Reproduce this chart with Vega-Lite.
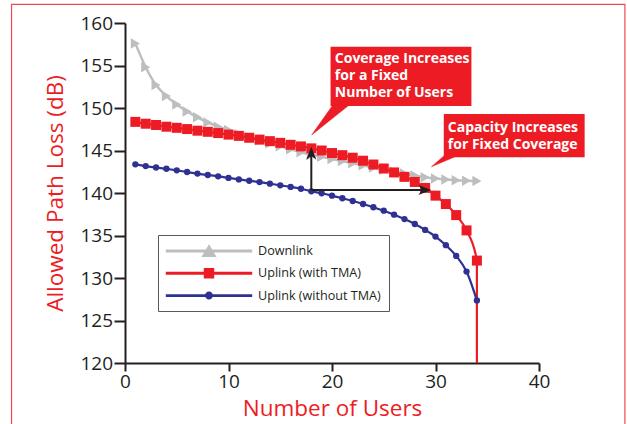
{
  "$schema": "https://vega.github.io/schema/vega-lite/v6.json",
  "width": 414,
  "height": 340,
  "autosize": {"type": "none"},
  "padding": {"left": 125, "top": 23, "right": 88, "bottom": 61},
  "background": "white",
  "config": {
    "view": {"stroke": null},
    "font": "Open Sans",
    "axis": {
      "grid": false,
      "tickWidth": 2,
      "tickColor": "#231f20",
      "domainColor": "#231f20",
      "domainWidth": 2,
      "labelFont": "Open Sans",
      "labelFontSize": 19,
      "labelColor": "#231f20",
      "labelFlush": false,
      "titleFont": "Open Sans",
      "titleFontSize": 22.5,
      "titleFontWeight": "normal",
      "titleColor": "#ed1c24"
    }
  },
  "datasets": {
    "curves": [
      {"s": "Downlink", "n": 1, "db": 157.6},
      {"s": "Downlink", "n": 2, "db": 154.8},
      {"s": "Downlink", "n": 3, "db": 152.7},
      {"s": "Downlink", "n": 4, "db": 151.4},
      {"s": "Downlink", "n": 5, "db": 150.4},
      {"s": "Downlink", "n": 6, "db": 149.6},
      {"s": "Downlink", "n": 7, "db": 148.9},
      {"s": "Downlink", "n": 8, "db": 148.3},
      {"s": "Downlink", "n": 9, "db": 147.8},
      {"s": "Downlink", "n": 10, "db": 147.4},
      {"s": "Downlink", "n": 11, "db": 146.95},
      {"s": "Downlink", "n": 12, "db": 146.55},
      {"s": "Downlink", "n": 13, "db": 146.2},
      {"s": "Downlink", "n": 14, "db": 145.85},
      {"s": "Downlink", "n": 15, "db": 145.5},
      {"s": "Downlink", "n": 16, "db": 145.15},
      {"s": "Downlink", "n": 17, "db": 144.8},
      {"s": "Downlink", "n": 18, "db": 144.5},
      {"s": "Downlink", "n": 19, "db": 144.25},
      {"s": "Downlink", "n": 20, "db": 144.0},
      {"s": "Downlink", "n": 21, "db": 143.75},
      {"s": "Downlink", "n": 22, "db": 143.5},
      {"s": "Downlink", "n": 23, "db": 143.25},
      {"s": "Downlink", "n": 24, "db": 143.0},
      {"s": "Downlink", "n": 25, "db": 142.75},
      {"s": "Downlink", "n": 26, "db": 142.5},
      {"s": "Downlink", "n": 27, "db": 142.3},
      {"s": "Downlink", "n": 28, "db": 142.05},
      {"s": "Downlink", "n": 29, "db": 141.85},
      {"s": "Downlink", "n": 30, "db": 141.7},
      {"s": "Downlink", "n": 31, "db": 141.6},
      {"s": "Downlink", "n": 32, "db": 141.5},
      {"s": "Downlink", "n": 33, "db": 141.45},
      {"s": "Downlink", "n": 34, "db": 141.4},
      {"s": "Uplink (with TMA)", "n": 1, "db": 148.37},
      {"s": "Uplink (with TMA)", "n": 2, "db": 148.15},
      {"s": "Uplink (with TMA)", "n": 3, "db": 148.0},
      {"s": "Uplink (with TMA)", "n": 4, "db": 147.8},
      {"s": "Uplink (with TMA)", "n": 5, "db": 147.67},
      {"s": "Uplink (with TMA)", "n": 6, "db": 147.52},
      {"s": "Uplink (with TMA)", "n": 7, "db": 147.33},
      {"s": "Uplink (with TMA)", "n": 8, "db": 147.2},
      {"s": "Uplink (with TMA)", "n": 9, "db": 147.05},
      {"s": "Uplink (with TMA)", "n": 10, "db": 146.87},
      {"s": "Uplink (with TMA)", "n": 11, "db": 146.72},
      {"s": "Uplink (with TMA)", "n": 12, "db": 146.5},
      {"s": "Uplink (with TMA)", "n": 13, "db": 146.28},
      {"s": "Uplink (with TMA)", "n": 14, "db": 146.1},
      {"s": "Uplink (with TMA)", "n": 15, "db": 145.9},
      {"s": "Uplink (with TMA)", "n": 16, "db": 145.67},
      {"s": "Uplink (with TMA)", "n": 17, "db": 145.48},
      {"s": "Uplink (with TMA)", "n": 18, "db": 145.25},
      {"s": "Uplink (with TMA)", "n": 19, "db": 145.0},
      {"s": "Uplink (with TMA)", "n": 20, "db": 144.7},
      {"s": "Uplink (with TMA)", "n": 21, "db": 144.45},
      {"s": "Uplink (with TMA)", "n": 22, "db": 144.15},
      {"s": "Uplink (with TMA)", "n": 23, "db": 143.8},
      {"s": "Uplink (with TMA)", "n": 24, "db": 143.35},
      {"s": "Uplink (with TMA)", "n": 25, "db": 142.88},
      {"s": "Uplink (with TMA)", "n": 26, "db": 142.42},
      {"s": "Uplink (with TMA)", "n": 27, "db": 141.9},
      {"s": "Uplink (with TMA)", "n": 28, "db": 141.3},
      {"s": "Uplink (with TMA)", "n": 29, "db": 140.6},
      {"s": "Uplink (with TMA)", "n": 30, "db": 139.69},
      {"s": "Uplink (with TMA)", "n": 31, "db": 138.7},
      {"s": "Uplink (with TMA)", "n": 32, "db": 137.4},
      {"s": "Uplink (with TMA)", "n": 33, "db": 135.6},
      {"s": "Uplink (with TMA)", "n": 34, "db": 132.05},
      {"s": "Uplink (with TMA)", "n": 34, "db": 120},
      {"s": "Uplink (without TMA)", "n": 1, "db": 143.37},
      {"s": "Uplink (without TMA)", "n": 2, "db": 143.17},
      {"s": "Uplink (without TMA)", "n": 3, "db": 143.0},
      {"s": "Uplink (without TMA)", "n": 4, "db": 142.85},
      {"s": "Uplink (without TMA)", "n": 5, "db": 142.67},
      {"s": "Uplink (without TMA)", "n": 6, "db": 142.47},
      {"s": "Uplink (without TMA)", "n": 7, "db": 142.28},
      {"s": "Uplink (without TMA)", "n": 8, "db": 142.12},
      {"s": "Uplink (without TMA)", "n": 9, "db": 141.96},
      {"s": "Uplink (without TMA)", "n": 10, "db": 141.77},
      {"s": "Uplink (without TMA)", "n": 11, "db": 141.6},
      {"s": "Uplink (without TMA)", "n": 12, "db": 141.44},
      {"s": "Uplink (without TMA)", "n": 13, "db": 141.28},
      {"s": "Uplink (without TMA)", "n": 14, "db": 141.1},
      {"s": "Uplink (without TMA)", "n": 15, "db": 140.9},
      {"s": "Uplink (without TMA)", "n": 16, "db": 140.72},
      {"s": "Uplink (without TMA)", "n": 17, "db": 140.5},
      {"s": "Uplink (without TMA)", "n": 18, "db": 140.2},
      {"s": "Uplink (without TMA)", "n": 19, "db": 139.97},
      {"s": "Uplink (without TMA)", "n": 20, "db": 139.69},
      {"s": "Uplink (without TMA)", "n": 21, "db": 139.38},
      {"s": "Uplink (without TMA)", "n": 22, "db": 139.06},
      {"s": "Uplink (without TMA)", "n": 23, "db": 138.71},
      {"s": "Uplink (without TMA)", "n": 24, "db": 138.32},
      {"s": "Uplink (without TMA)", "n": 25, "db": 137.92},
      {"s": "Uplink (without TMA)", "n": 26, "db": 137.45},
      {"s": "Uplink (without TMA)", "n": 27, "db": 136.93},
      {"s": "Uplink (without TMA)", "n": 28, "db": 136.35},
      {"s": "Uplink (without TMA)", "n": 29, "db": 135.66},
      {"s": "Uplink (without TMA)", "n": 30, "db": 134.87},
      {"s": "Uplink (without TMA)", "n": 31, "db": 133.86},
      {"s": "Uplink (without TMA)", "n": 32, "db": 132.6},
      {"s": "Uplink (without TMA)", "n": 33, "db": 130.76},
      {"s": "Uplink (without TMA)", "n": 34, "db": 127.36}
    ]
  },
  "layer": [
    {
      "data": {"values": [{"x1": -10.96, "x2": 48.3, "y1": 162.2, "y2": 110}]},
      "mark": {"type": "rect", "filled": false, "color": "#ef4a53", "strokeWidth": 1.2},
      "encoding": {
        "x": {"field": "x1", "type": "quantitative", "scale": {"domain": [0, 40]}, "title": "Number of Users"},
        "x2": {"field": "x2"},
        "y": {"field": "y1", "type": "quantitative", "scale": {"domain": [120, 160]}, "title": "Allowed Path Loss (dB)"},
        "y2": {"field": "y2"}
      }
    },
    {
      "data": {"name": "curves"},
      "transform": [{"filter": "datum.s === 'Downlink'"}],
      "mark": {"type": "line", "interpolate": "monotone", "strokeWidth": 2.5, "color": "#bcbec0"},
      "encoding": {
        "x": {
          "field": "n", "type": "quantitative",
          "scale": {"domain": [0, 40], "nice": false},
          "title": "Number of Users",
          "axis": {"values": [0, 10, 20, 30, 40], "tickSize": 8, "labelPadding": 1, "titlePadding": 6}
        },
        "y": {
          "field": "db", "type": "quantitative",
          "scale": {"domain": [120, 160], "nice": false, "zero": false},
          "title": "Allowed Path Loss (dB)",
          "axis": {"values": [120, 125, 130, 135, 140, 145, 150, 155, 160], "tickSize": 11, "labelPadding": 1.5, "titlePadding": 12}
        }
      }
    },
    {
      "data": {"name": "curves"},
      "transform": [{"filter": "datum.s === 'Downlink'"}],
      "mark": {"type": "point", "shape": "triangle-right", "filled": true, "opacity": 1, "size": 110, "color": "#bcbec0"},
      "encoding": {
        "x": {"field": "n", "type": "quantitative", "scale": {"domain": [0, 40]}, "title": "Number of Users"},
        "y": {"field": "db", "type": "quantitative", "scale": {"domain": [120, 160]}, "title": "Allowed Path Loss (dB)"}
      }
    },
    {
      "data": {"name": "curves"},
      "transform": [{"filter": "datum.s === 'Uplink (with TMA)'"}],
      "mark": {"type": "line", "interpolate": "monotone", "strokeWidth": 2.2, "color": "#ed1c24"},
      "encoding": {
        "x": {"field": "n", "type": "quantitative", "scale": {"domain": [0, 40]}, "title": "Number of Users"},
        "y": {"field": "db", "type": "quantitative", "scale": {"domain": [120, 160]}, "title": "Allowed Path Loss (dB)"}
      }
    },
    {
      "data": {"name": "curves"},
      "transform": [{"filter": "datum.s === 'Uplink (with TMA)' && datum.db > 120"}],
      "mark": {"type": "point", "shape": "square", "filled": true, "opacity": 1, "size": 100, "color": "#ed1c24"},
      "encoding": {
        "x": {"field": "n", "type": "quantitative", "scale": {"domain": [0, 40]}, "title": "Number of Users"},
        "y": {"field": "db", "type": "quantitative", "scale": {"domain": [120, 160]}, "title": "Allowed Path Loss (dB)"}
      }
    },
    {
      "data": {"name": "curves"},
      "transform": [{"filter": "datum.s === 'Uplink (without TMA)'"}],
      "mark": {"type": "line", "interpolate": "monotone", "strokeWidth": 2.2, "color": "#2e3192"},
      "encoding": {
        "x": {"field": "n", "type": "quantitative", "scale": {"domain": [0, 40]}, "title": "Number of Users"},
        "y": {"field": "db", "type": "quantitative", "scale": {"domain": [120, 160]}, "title": "Allowed Path Loss (dB)"}
      }
    },
    {
      "data": {"name": "curves"},
      "transform": [{"filter": "datum.s === 'Uplink (without TMA)'"}],
      "mark": {"type": "point", "shape": "circle", "filled": true, "opacity": 1, "size": 40, "color": "#2e3192"},
      "encoding": {
        "x": {"field": "n", "type": "quantitative", "scale": {"domain": [0, 40]}, "title": "Number of Users"},
        "y": {"field": "db", "type": "quantitative", "scale": {"domain": [120, 160]}, "title": "Allowed Path Loss (dB)"}
      }
    },
    {
      "data": {"name": "curves"},
      "transform": [{"filter": "false"}],
      "mark": {"type": "point", "filled": true, "opacity": 1},
      "encoding": {
        "x": {"field": "n", "type": "quantitative", "scale": {"domain": [0, 40]}, "title": "Number of Users"},
        "y": {"field": "db", "type": "quantitative", "scale": {"domain": [120, 160]}, "title": "Allowed Path Loss (dB)"},
        "color": {
          "field": "s", "type": "nominal",
          "scale": {"domain": ["Downlink", "Uplink (with TMA)", "Uplink (without TMA)"], "range": ["#bcbec0", "#ed1c24", "#2e3192"]},
          "legend": {
            "orient": "none",
            "legendX": 33,
            "legendY": 212,
            "title": null,
            "padding": 8,
            "strokeColor": "#58595b",
            "fillColor": "white",
            "rowPadding": 7.3,
            "symbolSize": 256,
            "symbolStrokeWidth": 0,
            "symbolOffset": 35,
            "labelOffset": 41,
            "labelFont": "Open Sans",
            "labelFontSize": 12.6,
            "labelColor": "#231f20",
            "labelLimit": 300
          }
        },
        "shape": {
          "field": "s", "type": "nominal",
          "scale": {
            "domain": ["Downlink", "Uplink (with TMA)", "Uplink (without TMA)"],
            "range": [
              "M-5.4,-0.18H5.4V0.18H-5.4ZM-0.95,0.75L0,-0.85L0.95,0.75Z",
              "M-5.4,-0.18H5.4V0.18H-5.4ZM-0.65,-0.65H0.65V0.65H-0.65Z",
              "M-5.4,-0.18H5.4V0.18H-5.4ZM-0.5,0A0.5,0.5,0,1,1,0.5,0A0.5,0.5,0,1,1,-0.5,0Z"
            ]
          },
          "legend": {
            "orient": "none",
            "legendX": 33,
            "legendY": 212,
            "title": null,
            "padding": 8,
            "strokeColor": "#58595b",
            "fillColor": "white",
            "rowPadding": 7.3,
            "symbolSize": 256,
            "symbolStrokeWidth": 0,
            "symbolOffset": 35,
            "labelOffset": 41,
            "labelFont": "Open Sans",
            "labelFontSize": 12.6,
            "labelColor": "#231f20",
            "labelLimit": 300
          }
        }
      }
    },
    {
      "data": {"values": [{"x": 18, "y": 140.35, "xe": 18, "ye": 145.0}, {"x": 18, "y": 140.35, "xe": 29.0, "ye": 140.35}]},
      "mark": {"type": "rule", "color": "#231f20", "strokeWidth": 2},
      "encoding": {
        "x": {"field": "x", "type": "quantitative", "scale": {"domain": [0, 40]}, "title": "Number of Users"},
        "x2": {"field": "xe"},
        "y": {"field": "y", "type": "quantitative", "scale": {"domain": [120, 160]}, "title": "Allowed Path Loss (dB)"},
        "y2": {"field": "ye"}
      }
    },
    {
      "data": {"values": [{"x": 18, "y": 145.45}]},
      "mark": {"type": "point", "shape": "M0,0L0.78,2L0,1.45L-0.78,2Z", "filled": true, "color": "#231f20", "opacity": 1, "size": 169},
      "encoding": {
        "x": {"field": "x", "type": "quantitative", "scale": {"domain": [0, 40]}, "title": "Number of Users"},
        "y": {"field": "y", "type": "quantitative", "scale": {"domain": [120, 160]}, "title": "Allowed Path Loss (dB)"}
      }
    },
    {
      "data": {"values": [{"x": 29.6, "y": 140.35}]},
      "mark": {"type": "point", "shape": "M0,0L-2,0.78L-1.45,0L-2,-0.78Z", "filled": true, "color": "#231f20", "opacity": 1, "size": 169},
      "encoding": {
        "x": {"field": "x", "type": "quantitative", "scale": {"domain": [0, 40]}, "title": "Number of Users"},
        "y": {"field": "y", "type": "quantitative", "scale": {"domain": [120, 160]}, "title": "Allowed Path Loss (dB)"}
      }
    },
    {
      "data": {"values": [{"x1": 19.86, "x2": 33.47, "y1": 157.21, "y2": 150.24}, {"x1": 30.8, "x2": 44.41, "y1": 149.29, "y2": 144.2}]},
      "mark": {"type": "rect", "color": "#ed1c24", "opacity": 1},
      "encoding": {
        "x": {"field": "x1", "type": "quantitative", "scale": {"domain": [0, 40]}, "title": "Number of Users"},
        "x2": {"field": "x2"},
        "y": {"field": "y1", "type": "quantitative", "scale": {"domain": [120, 160]}, "title": "Allowed Path Loss (dB)"},
        "y2": {"field": "y2"}
      }
    },
    {
      "data": {"values": [
        {"id": "a", "x": 18.03, "y": 146.82},
        {"id": "a", "x": 20.11, "y": 150.4},
        {"id": "a", "x": 21.72, "y": 150.4},
        {"id": "b", "x": 29.61, "y": 143.09},
        {"id": "b", "x": 30.8, "y": 144.35},
        {"id": "b", "x": 32.06, "y": 144.35}
      ]},
      "mark": {"type": "line", "interpolate": "linear-closed", "fill": "#ed1c24", "stroke": "#ed1c24", "strokeWidth": 0.5},
      "encoding": {
        "x": {"field": "x", "type": "quantitative", "scale": {"domain": [0, 40]}, "title": "Number of Users"},
        "y": {"field": "y", "type": "quantitative", "scale": {"domain": [120, 160]}, "title": "Allowed Path Loss (dB)"},
        "detail": {"field": "id", "type": "nominal"}
      }
    },
    {
      "data": {"values": [
        {"x": 20.27, "y": 155.33, "t": "Coverage Increases\nfor a Fixed\nNumber of Users"},
        {"x": 31.19, "y": 147.21, "t": "Capacity Increases\nfor Fixed Coverage"}
      ]},
      "mark": {"type": "text", "align": "left", "baseline": "alphabetic", "lineBreak": "\n", "lineHeight": 17.3, "font": "Open Sans", "fontSize": 14, "fontWeight": "bold", "color": "white"},
      "encoding": {
        "x": {"field": "x", "type": "quantitative", "scale": {"domain": [0, 40]}, "title": "Number of Users"},
        "y": {"field": "y", "type": "quantitative", "scale": {"domain": [120, 160]}, "title": "Allowed Path Loss (dB)"},
        "text": {"field": "t"}
      }
    }
  ]
}
